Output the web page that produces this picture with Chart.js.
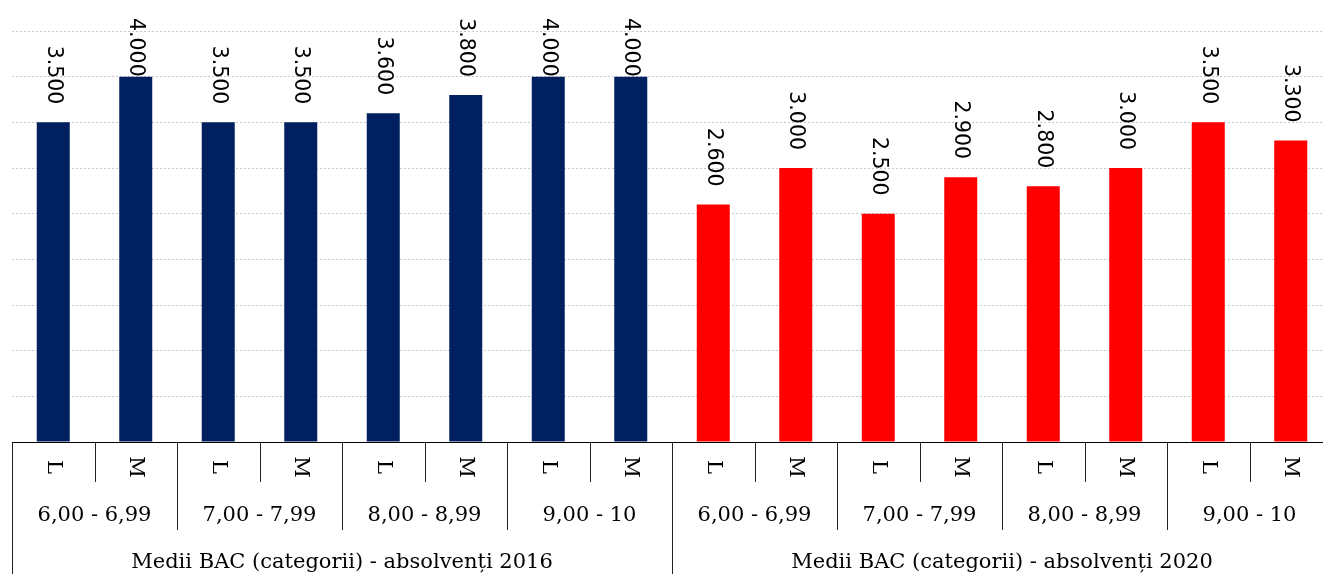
<!DOCTYPE html>
<html lang="ro">
<head>
<meta charset="UTF-8">
<title>Medii BAC - absolvenți 2016 / 2020</title>
<script src="https://cdn.jsdelivr.net/npm/chart.js"></script>
<style>
    html, body { margin: 0; padding: 0; background: #fff; overflow: hidden; }
    #wrap { width: 1332px; height: 574px; }
</style>
</head>
<body>
<div id="wrap"><canvas id="bacChart"></canvas></div>
<script>
// data
const subLabels = ['L', 'M', 'L', 'M', 'L', 'M', 'L', 'M', 'L', 'M', 'L', 'M', 'L', 'M', 'L', 'M'];
const ranges = ['6,00 - 6,99', '7,00 - 7,99', '8,00 - 8,99', '9,00 - 10'];
const years = ['Medii BAC (categorii) - absolvenți 2016', 'Medii BAC (categorii) - absolvenți 2020'];
const values2016 = [3500, 4000, 3500, 3500, 3600, 3800, 4000, 4000];
const values2020 = [2600, 3000, 2500, 2900, 2800, 3000, 3500, 3300];

const navy = '#002060';
const red = '#FF0000';
const serif = '"DejaVu Serif", serif';
const sans = '"DejaVu Sans", sans-serif';

const n = subLabels.length;
const data2016 = values2016.concat(new Array(values2020.length).fill(null));
const data2020 = new Array(values2016.length).fill(null).concat(values2020);

function fmt(v) {
    return String(v).replace(/\B(?=(\d{3})+(?!\d))/g, '.');
}

// labels above the bars, rotated clockwise
const valueLabels = {
    id: 'valueLabels',
    afterDatasetsDraw(chart) {
        const ctx = chart.ctx;
        ctx.save();
        ctx.font = '20.5px ' + sans;
        ctx.fillStyle = '#000';
        chart.data.datasets.forEach((ds, di) => {
            chart.getDatasetMeta(di).data.forEach((bar, i) => {
                const v = ds.data[i];
                if (v == null) return;
                const txt = fmt(v);
                const len = ctx.measureText(txt).width;
                let start = bar.y - 18 - len;
                if (start < 18) start = 18;
                ctx.save();
                ctx.translate(bar.x, start);
                ctx.rotate(Math.PI / 2);
                ctx.textAlign = 'left';
                ctx.textBaseline = 'middle';
                ctx.fillText(txt, 0, 0);
                ctx.restore();
            });
        });
        ctx.restore();
    }
};

// table-like category axis under the plot
const tableAxis = {
    id: 'tableAxis',
    afterDraw(chart) {
        const ctx = chart.ctx;
        const xs = chart.scales.x;
        const area = chart.chartArea;
        const base = area.bottom;
        const bottom = chart.height;
        const w = (xs.right - xs.left) / n;
        ctx.save();

        // baseline
        ctx.strokeStyle = '#000';
        ctx.lineWidth = 1;
        ctx.beginPath();
        ctx.moveTo(area.left, base + 0.5);
        ctx.lineTo(area.right, base + 0.5);
        ctx.stroke();

        // separators
        ctx.strokeStyle = '#222';
        for (let i = 0; i <= n; i++) {
            const x = Math.round(xs.left + i * w) + 0.5;
            let y2;
            if (i === 0 || i === n || i % 8 === 0) y2 = bottom;
            else if (i % 2 === 0) y2 = base + 88;
            else y2 = base + 40;
            ctx.beginPath();
            ctx.moveTo(x, base);
            ctx.lineTo(x, y2);
            ctx.stroke();
        }

        ctx.fillStyle = '#000';
        ctx.font = '21px ' + serif;
        ctx.textAlign = 'center';
        ctx.textBaseline = 'middle';

        // L / M rotated
        subLabels.forEach((lab, i) => {
            ctx.save();
            ctx.translate(xs.getPixelForValue(i), base + 25);
            ctx.rotate(Math.PI / 2);
            ctx.fillText(lab, 0, 0);
            ctx.restore();
        });

        // grade ranges
        for (let g = 0; g < n / 2; g++) {
            const cx = xs.left + (g * 2 + 1) * w;
            ctx.fillText(ranges[g % ranges.length], cx, base + 74);
        }

        // years
        years.forEach((t, k) => {
            const cx = xs.left + (k * 8 + 4) * w;
            ctx.fillText(t, cx, base + 121);
        });
        ctx.restore();
    }
};

new Chart(document.getElementById('bacChart'), {
    type: 'bar',
    data: {
        labels: subLabels.map((l, i) => i),
        datasets: [
            { label: '2016', data: data2016, backgroundColor: navy, barPercentage: 0.4, categoryPercentage: 1, grouped: false },
            { label: '2020', data: data2020, backgroundColor: red, barPercentage: 0.4, categoryPercentage: 1, grouped: false }
        ]
    },
    options: {
        responsive: true,
        maintainAspectRatio: false,
        animation: false,
        layout: { padding: { top: 31, left: 12, right: 0, bottom: 132 } },
        plugins: {
            legend: { display: false },
            tooltip: { enabled: false }
        },
        scales: {
            x: {
                display: false
            },
            y: {
                min: 0,
                max: 4500,
                ticks: { display: false, stepSize: 500 },
                grid: { color: '#c8c8c8', drawTicks: false },
                border: { display: false, dash: [2, 2] }
            }
        }
    },
    plugins: [valueLabels, tableAxis]
});
</script>
</body>
</html>
